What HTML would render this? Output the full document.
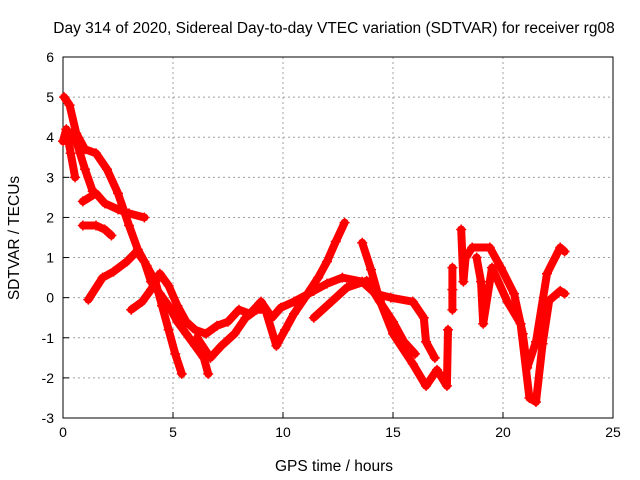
<!DOCTYPE html>
<html><head><meta charset="utf-8"><style>
body{margin:0;background:#fff;}
svg{display:block;font-family:"Liberation Sans",sans-serif;}
</style></head><body>
<svg id="chart" width="640" height="480" viewBox="0 0 640 480" xmlns="http://www.w3.org/2000/svg">
<rect x="0" y="0" width="640" height="480" fill="#fff"/>
<text x="334" y="33" font-size="15.5" text-anchor="middle">Day 314 of 2020, Sidereal Day-to-day VTEC variation (SDTVAR) for receiver rg08</text>
<g id="grid"></g>
<g id="axes"></g>
<g id="plot"></g>
<text x="334" y="471" font-size="15.5" text-anchor="middle">GPS time / hours</text>
<text x="19" y="238" font-size="15.5" text-anchor="middle" transform="rotate(-90 19 238)">SDTVAR / TECUs</text>
</svg>
<script>
const xTicks = [0,5,10,15,20,25];
const yTicks = [-3,-2,-1,0,1,2,3,4,5,6];
const trackA = [[0.05,5.0],[0.3,4.8],[0.6,4.1],[1.0,3.7],[1.5,3.6],[2.0,3.2],[2.5,2.6],[3.0,1.8],[3.4,1.2],[3.8,0.8],[4.2,0.4],[4.5,-0.2],[4.8,-0.8],[5.1,-1.4],[5.4,-1.9]];
const trackB = [[0.0,3.9],[0.15,4.2],[0.35,3.6],[0.55,3.0]];
const trackC = [[0.4,4.1],[0.6,3.9],[1.0,3.2],[1.35,2.65]];
const trackD = [[0.9,2.4],[1.5,2.6],[1.9,2.35],[2.5,2.2],[3.0,2.1],[3.7,2.0]];
const trackE = [[0.9,1.8],[1.5,1.8],[1.9,1.7],[2.2,1.55]];
const trackF = [[1.15,-0.05],[1.8,0.5],[2.3,0.65],[2.9,0.9],[3.35,1.15],[3.7,0.9],[4.0,0.4],[4.4,0.1],[4.8,-0.2],[5.2,-0.6],[5.6,-0.9],[6.0,-1.2],[6.4,-1.5],[6.6,-1.9]];
const trackG = [[3.1,-0.3],[3.6,-0.1],[4.0,0.2],[4.4,0.6],[4.8,0.3],[5.2,-0.2],[5.6,-0.6],[6.0,-0.8],[6.5,-0.9],[7.0,-0.7],[7.5,-0.6],[8.0,-0.3],[8.5,-0.4],[9.0,-0.1],[9.5,-0.5],[9.9,-0.25],[10.5,-0.1],[11.4,0.17],[12.0,0.35],[12.7,0.5],[13.6,0.4],[14.2,0.1],[14.9,0.0],[15.9,-0.1],[16.4,-0.5],[16.5,-1.1],[16.9,-1.5]];
const trackH = [[6.1,-1.0],[6.7,-1.5],[7.2,-1.2],[7.8,-0.9],[8.3,-0.5],[8.8,-0.3],[9.2,-0.3],[9.7,-1.2],[10.1,-0.8],[10.5,-0.4],[11.0,0.0],[11.6,0.5],[12.0,0.9],[12.4,1.4],[12.8,1.87]];
const trackI = [[11.4,-0.5],[12.2,-0.1],[12.9,0.25],[13.8,0.42],[14.4,-0.1],[15.0,-0.6],[15.5,-1.1],[16.0,-1.4]];
const trackJ = [[13.6,1.37],[14.0,0.7],[14.4,-0.07],[15.0,-0.9],[15.9,-1.65],[16.5,-2.2],[17.0,-1.8],[17.45,-2.2],[17.5,-0.8]];
const trackK = [[17.7,0.75],[17.7,0.2],[17.7,-0.3]];
const trackL = [[18.1,1.7],[18.2,0.4],[18.3,1.0],[18.6,1.25],[19.4,1.25],[19.9,0.75],[20.5,0.1],[20.9,-0.9],[21.1,-1.75],[21.5,-1.1],[22.0,0.6],[22.6,1.25],[22.8,1.15]];
const trackM = [[18.8,1.0],[19.0,0.4],[19.1,-0.65],[19.5,0.75],[20.2,-0.1],[20.8,-0.65],[21.2,-2.5],[21.5,-2.6],[21.8,-1.15],[22.1,-0.07],[22.6,0.17],[22.8,0.1]];
const tracks = [trackA,trackB,trackC,trackD,trackE,trackF,trackG,trackH,trackI,trackJ,trackK,trackL,trackM];

const X0=63, X1=613, Y0=418, Y1=57, XMIN=0, XMAX=25, YMIN=-3, YMAX=6;
function xs(t){return X0+(t-XMIN)/(XMAX-XMIN)*(X1-X0);}
function ys(v){return Y0-(v-YMIN)/(YMAX-YMIN)*(Y0-Y1);}
const NS="http://www.w3.org/2000/svg";
function mk(tag,attrs,parent){const e=document.createElementNS(NS,tag);for(const k in attrs)e.setAttribute(k,attrs[k]);parent.appendChild(e);return e;}
const grid=document.getElementById('grid'), axes=document.getElementById('axes'), plot=document.getElementById('plot');
xTicks.forEach(t=>{
  const x=xs(t);
  if(t>XMIN&&t<XMAX){const g=mk('line',{x1:x,x2:x,y1:Y1,y2:Y0,stroke:'#a0a0a0','stroke-dasharray':'2,3'},grid);
  
  }
  const tk=mk('line',{x1:x,x2:x,y1:Y0,y2:Y0-6,stroke:'#000'},axes);
  
  
  const lb=mk('text',{x:x,y:Y0+19,'font-size':14,'text-anchor':'middle'},axes);
  lb.textContent=t;
  
  
});
yTicks.forEach(v=>{
  const y=ys(v);
  if(v>YMIN&&v<YMAX){const g=mk('line',{x1:X0,x2:X1,y1:y,y2:y,stroke:'#a0a0a0','stroke-dasharray':'2,3'},grid);
  
  }
  const tk=mk('line',{x1:X0,x2:X0+6,y1:y,y2:y,stroke:'#000'},axes);
  
  
  const lb=mk('text',{x:X0-9,y:y+5,'font-size':14,'text-anchor':'end'},axes);
  lb.textContent=v;
  
  
});
const fr=mk('rect',{x:X0,y:Y1,width:X1-X0,height:Y0-Y1,fill:'none',stroke:'#000'},axes);


tracks.forEach(tr=>{
  const pl=mk('polyline',{points:tr.map(p=>xs(p[0])+','+ys(p[1])).join(' '),fill:'none',stroke:'#ff0000','stroke-width':8,'stroke-linejoin':'round','stroke-linecap':'round'},plot);
  
  
  tr.forEach(p=>{
    const x=xs(p[0]),y=ys(p[1]);
    const m=mk('path',{d:`M${x-5},${y}H${x+5}M${x},${y-5}V${y+5}`,stroke:'#ff0000','stroke-width':1.5},plot);
    
    
  });
});
</script>
</body></html>
